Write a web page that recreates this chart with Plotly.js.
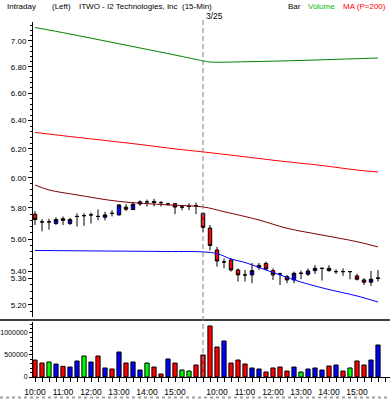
<!DOCTYPE html>
<html>
<head>
<meta charset="utf-8">
<script src="https://cdn.plot.ly/plotly-3.0.1.min.js"></script>
<style>html,body{margin:0;padding:0;background:#fff;}#chart{width:390px;height:399px;}</style>
</head>
<body>
<div id="chart"></div>
<script>
// ---- data ----
const times = [
  "10:00","10:15","10:30","10:45","11:00","11:15","11:30","11:45","12:00","12:15","12:30","12:45",
  "13:00","13:15","13:30","13:45","14:00","14:15","14:30","14:45","15:00","15:15","15:30","15:45",
  "9:30","9:45","10:00","10:15","10:30","10:45","11:00","11:15","11:30","11:45","12:00","12:15","12:30","12:45",
  "13:00","13:15","13:30","13:45","14:00","14:15","14:30","14:45","15:00","15:15","15:30","15:45"
];
const opens  = [5.76,5.71,5.71,5.70,5.73,5.70,5.745,5.75,5.755,5.745,5.74,5.765,5.755,5.805,5.79,5.826,5.84,5.835,5.835,5.826,5.828,5.806,5.81,5.815,
                5.765,5.67,5.532,5.458,5.47,5.409,5.379,5.379,5.425,5.449,5.405,5.385,5.369,5.349,5.389,5.383,5.405,5.419,5.419,5.399,5.399,5.399,5.373,5.349,5.335,5.359];
const highs  = [5.78,5.728,5.73,5.74,5.745,5.735,5.765,5.765,5.77,5.79,5.775,5.785,5.825,5.825,5.84,5.85,5.855,5.86,5.845,5.835,5.83,5.816,5.83,5.835,
                5.77,5.69,5.552,5.48,5.48,5.419,5.409,5.452,5.452,5.46,5.419,5.393,5.379,5.399,5.405,5.419,5.439,5.419,5.439,5.413,5.419,5.399,5.385,5.359,5.403,5.409];
const lows   = [5.69,5.65,5.66,5.69,5.69,5.69,5.68,5.685,5.70,5.72,5.72,5.745,5.75,5.78,5.785,5.815,5.81,5.81,5.81,5.815,5.76,5.785,5.785,5.76,
                5.645,5.53,5.429,5.419,5.399,5.339,5.339,5.329,5.409,5.409,5.349,5.318,5.329,5.329,5.353,5.373,5.385,5.345,5.399,5.385,5.373,5.353,5.345,5.318,5.313,5.339];
const closes = [5.725,5.71,5.71,5.725,5.72,5.725,5.745,5.75,5.755,5.745,5.755,5.765,5.82,5.792,5.825,5.84,5.84,5.842,5.835,5.826,5.806,5.806,5.81,5.815,
                5.675,5.56,5.464,5.458,5.409,5.379,5.379,5.405,5.437,5.415,5.379,5.385,5.349,5.389,5.389,5.403,5.419,5.419,5.405,5.399,5.399,5.399,5.353,5.335,5.353,5.36];
const volumes = [385000,318000,341000,295000,242000,227000,364000,477000,341000,477000,205000,182000,568000,318000,341000,159000,318000,227000,68000,409000,318000,159000,136000,273000,
                 500000,1159000,682000,818000,318000,386000,295000,205000,182000,114000,205000,227000,136000,227000,114000,182000,205000,159000,250000,273000,136000,205000,364000,273000,386000,727000];
const volumeDir = ["d","d","u0","u","d","u","u","u0","u","d","u","d","u","d","u","u","u0","d","d","u","d","u0","u0","d",
                   "d","d","d","u","d","d","d","u","u","d","d","d","d","u","u0","u","u","u","d","u","d","u0","d","d","u","u"];

// moving-average style lines (bar index, price)
const greenIdx  = [0,5,10,15,20,24,25,31,38,45,49];
const greenVals = [7.107,7.055,7.00,6.945,6.890,6.845,6.836,6.839,6.848,6.860,6.867];
const redIdx    = [0,5,10,15,20,24,29,35,41,46,49];
const redVals   = [6.315,6.286,6.258,6.230,6.199,6.178,6.150,6.115,6.084,6.053,6.040];
const maroonIdx = [0,2,6,12,19,24,27,32,36,41,46,49];
const maroonVals= [5.952,5.919,5.886,5.843,5.820,5.807,5.776,5.722,5.669,5.626,5.584,5.551];
const blueIdx   = [0,9,18,24,26,28,30,32,35,38,42,46,49];
const blueVals  = [5.529,5.526,5.523,5.520,5.510,5.476,5.455,5.424,5.379,5.336,5.291,5.253,5.217];

const priceTicks = [5.20,5.40,5.60,5.80,6.00,6.20,6.40,6.60,6.80,7.00];
const volTicks = [0,500000,1000000];
const dayStartIndex = 24;
const dayLabel = "3/25";
const titleText = "ITWO - I2 Technologies, Inc\u00a0\u00a0(15-Min)";

// ---- build ----
const idx = times.map((t,i)=>i);
const hourIdx = idx.filter(i=>times[i].endsWith(":00"));
const lastClose = closes[closes.length-1];
const yTickVals = priceTicks.concat([lastClose]);
const yTickText = yTickVals.map(v=>v.toFixed(2));
const volColorMap = {d:"#ff0000", u:"#0000ff", u0:"#00ff00"};

const F = "Liberation Sans, Arial, sans-serif";
const traces = [
  {type:"candlestick", x:idx, open:opens, high:highs, low:lows, close:closes,
   increasing:{fillcolor:"#0000ff", line:{color:"#000000", width:1}},
   decreasing:{fillcolor:"#ff0000", line:{color:"#000000", width:1}},
   whiskerwidth:0, xaxis:"x", yaxis:"y", hoverinfo:"none"},
  {type:"scatter", mode:"lines", x:greenIdx, y:greenVals, line:{color:"#008000", width:1, shape:"spline"}, xaxis:"x", yaxis:"y", hoverinfo:"none"},
  {type:"scatter", mode:"lines", x:redIdx, y:redVals, line:{color:"#ff0000", width:1, shape:"spline"}, xaxis:"x", yaxis:"y", hoverinfo:"none"},
  {type:"scatter", mode:"lines", x:maroonIdx, y:maroonVals, line:{color:"#800000", width:1, shape:"spline"}, xaxis:"x", yaxis:"y", hoverinfo:"none"},
  {type:"scatter", mode:"lines", x:blueIdx, y:blueVals, line:{color:"#0000ff", width:1, shape:"spline"}, xaxis:"x", yaxis:"y", hoverinfo:"none"},
  {type:"bar", x:idx, y:volumes, width:0.6,
   marker:{color:volumeDir.map(d=>volColorMap[d]), line:{color:"#000000", width:1}},
   xaxis:"x", yaxis:"y2", hoverinfo:"none"}
];

const L = 33, W = 357, T = 22, H = 355;
const px = v => (v - L) / W;
const py = v => (T + H - v) / H;

const ann = (text, x, y, color, size) => ({text:text, x:px(x), y:py(y), xref:"paper", yref:"paper",
  xanchor:"left", yanchor:"middle", showarrow:false, font:{family:F, size:size||8, color:color||"#000"}});

const layout = {
  width:390, height:399,
  margin:{l:L, r:0, t:T, b:22},
  paper_bgcolor:"#ffffff", plot_bgcolor:"#ffffff",
  showlegend:false,
  font:{family:F, size:8, color:"#000"},
  xaxis:{type:"linear", range:[-2/7, 355/7], anchor:"y2", domain:[0,1],
    tickmode:"array", tickvals:hourIdx, ticktext:hourIdx.map(i=>times[i]),
    ticks:"outside", ticklen:4, tickcolor:"#000", showgrid:false, zeroline:false,
    showline:true, linecolor:"#000", linewidth:1, ticklabelstandoff:3,
    minor:{dtick:1, tick0:0, ticks:"outside", ticklen:4, tickcolor:"#000"},
    rangeslider:{visible:false}, tickfont:{family:F, size:8.5}},
  yaxis:{type:"log", domain:[0.169,1], range:[Math.log10(5.130), Math.log10(7.151)],
    tickmode:"array", tickvals:yTickVals, ticktext:yTickText,
    ticks:"outside", ticklen:4, tickcolor:"#000", showgrid:false, zeroline:false,
    showline:true, linecolor:"#000", linewidth:1, anchor:"x",
    minor:{dtick:"L0.04", ticks:"outside", ticklen:2, tickcolor:"#000"},
    tickfont:{family:F, size:8}},
  yaxis2:{domain:[0,0.155], range:[0,1250000],
    tickmode:"array", tickvals:volTicks, ticktext:volTicks.map(v=>String(v)),
    ticks:"outside", ticklen:3, tickcolor:"#000", showgrid:false, zeroline:false,
    showline:true, linecolor:"#000", linewidth:1, anchor:"x",
    minor:{dtick:100000, tick0:0, ticks:"outside", ticklen:2, tickcolor:"#000"},
    tickfont:{family:F, size:7}},
  shapes:[
    {type:"line", xref:"paper", yref:"paper", x0:px(0), x1:1, y0:py(320), y1:py(320), line:{color:"#000", width:1.5}},
    {type:"line", xref:"x", yref:"paper", x0:dayStartIndex, x1:dayStartIndex, y0:0, y1:py(20), layer:"above",
      line:{color:"#808080", width:1, dash:"5px,3px"}},
    {type:"line", xref:"paper", yref:"paper", x0:px(0), x1:1, y0:py(397.5), y1:py(397.5), line:{color:"#a0a0a0", width:2, dash:"dot"}}
  ],
  annotations:[
    ann("Intraday", 5, 6),
    ann("(Left)", 50, 6),
    ann(titleText, 77, 6),
    {text:dayLabel, x:dayStartIndex, xref:"x", y:py(15.5), yref:"paper", xanchor:"left", yanchor:"middle",
      xshift:1, showarrow:false, font:{family:F, size:8.5, color:"#000"}},
    ann("Bar", 286, 6),
    ann("Volume", 306, 6, "#00c000"),
    ann("MA (P=200)", 341, 6, "#ff0000")
  ]
};

Plotly.newPlot("chart", traces, layout, {staticPlot:true, displayModeBar:false});
</script>
</body>
</html>
